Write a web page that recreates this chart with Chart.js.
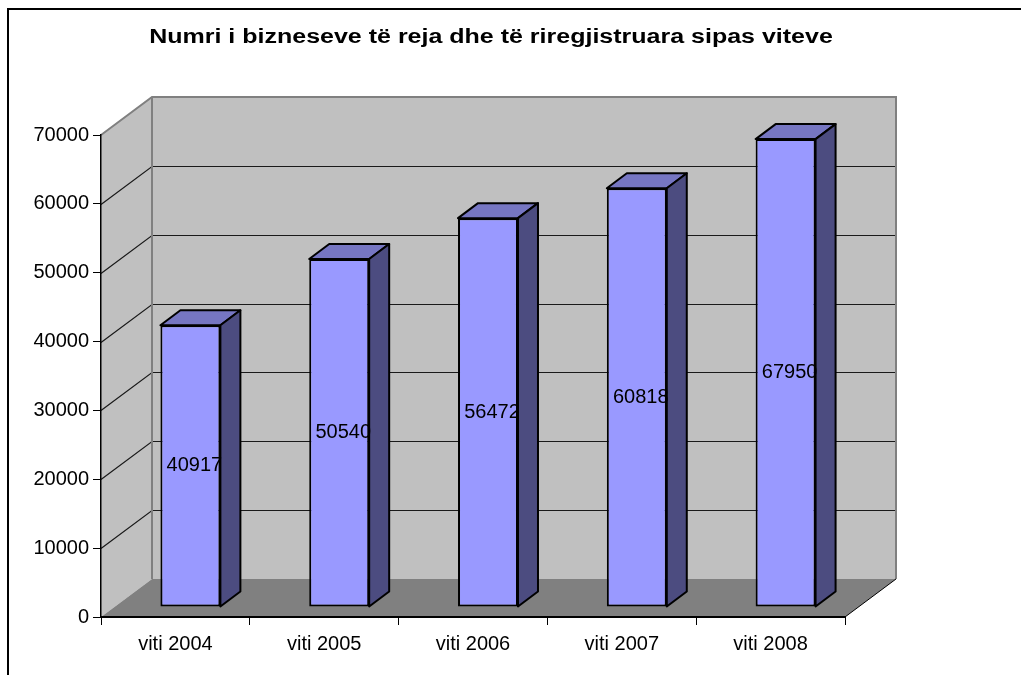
<!DOCTYPE html>
<html>
<head>
<meta charset="utf-8">
<script src="https://cdn.jsdelivr.net/npm/chart.js@4.4.1/dist/chart.umd.min.js"></script>
<style>
  html, body { margin: 0; padding: 0; background: #fff; }
  #wrap { width: 1021px; height: 675px; }
</style>
</head>
<body>
<div id="wrap"><canvas id="chart" width="1021" height="675"></canvas></div>
<script>
const chartTitle = "Numri i bizneseve të reja dhe të riregjistruara sipas viteve";
const categories = ["viti 2004", "viti 2005", "viti 2006", "viti 2007", "viti 2008"];
const businesses = [40917, 50540, 56472, 60818, 67950];
const yMin = 0;
const yMax = 70000;
const yStep = 10000;

const FONT = "'Liberation Sans', Arial, sans-serif";
// depth of the 3D box (back wall offset) and of the bars inside it
const WALL_DX = 51, WALL_DY = -38;
const BAR_DX = 15, BAR_DY = -10;
const DEPTH_X = 20, DEPTH_Y = -15;

function poly(ctx, pts) {
  ctx.beginPath();
  ctx.moveTo(pts[0][0], pts[0][1]);
  for (let i = 1; i < pts.length; i++) ctx.lineTo(pts[i][0], pts[i][1]);
  ctx.closePath();
}

const box3d = {
  id: "box3d",
  beforeDraw(chart) {
    const { ctx, chartArea: a, scales } = chart;
    const ys = scales.y;
    ctx.save();

    // outer frame
    ctx.strokeStyle = "#000";
    ctx.lineWidth = 2;
    ctx.beginPath();
    ctx.moveTo(8, 675);
    ctx.lineTo(8, 9);
    ctx.lineTo(1021, 9);
    ctx.stroke();

    const bl = a.left + WALL_DX, br = a.right + WALL_DX;
    const bt = a.top + WALL_DY, bb = a.bottom + WALL_DY;

    // side wall + back wall
    ctx.fillStyle = "#c0c0c0";
    poly(ctx, [[a.left, a.top], [bl, bt], [bl, bb], [a.left, a.bottom]]);
    ctx.fill();
    ctx.fillRect(bl, bt, br - bl, bb - bt);

    // floor
    ctx.fillStyle = "#808080";
    poly(ctx, [[a.left, a.bottom], [bl, bb], [br, bb], [a.right, a.bottom]]);
    ctx.fill();

    // grid lines on the walls
    ctx.strokeStyle = "#1a1a1a";
    ctx.lineWidth = 1.2;
    ys.ticks.forEach((t) => {
      if (t.value === yMin || t.value === yMax) return;
      const py = Math.round(ys.getPixelForValue(t.value)) + 0.5;
      ctx.beginPath();
      ctx.moveTo(a.left, py);
      ctx.lineTo(bl, py + WALL_DY);
      ctx.lineTo(br, py + WALL_DY);
      ctx.stroke();
    });

    // wall edges
    ctx.strokeStyle = "#808080";
    ctx.lineWidth = 2;
    ctx.beginPath();
    ctx.moveTo(a.left, a.top);
    ctx.lineTo(bl, bt);
    ctx.lineTo(br, bt);
    ctx.lineTo(br, bb);
    ctx.moveTo(bl, bt);
    ctx.lineTo(bl, bb);
    ctx.stroke();

    // floor right edge
    ctx.strokeStyle = "#000";
    ctx.lineWidth = 1;
    ctx.beginPath();
    ctx.moveTo(a.right, a.bottom);
    ctx.lineTo(br, bb);
    ctx.stroke();

    ctx.restore();
  },
  afterDraw(chart) {
    // title, a little wider than the font's natural width like the original
    const ctx = chart.ctx;
    ctx.save();
    ctx.fillStyle = "#000";
    ctx.font = "bold 20px " + FONT;
    ctx.textAlign = "center";
    ctx.textBaseline = "middle";
    ctx.translate(491, 37);
    ctx.scale(1.25, 1);
    ctx.fillText(chartTitle, 0, 0);
    ctx.restore();
  }
};

const bars3d = {
  id: "bars3d",
  beforeDatasetsDraw(chart) {
    chart.ctx.save();
    chart.ctx.translate(BAR_DX, BAR_DY);
  },
  afterDatasetsDraw(chart) {
    const ctx = chart.ctx;
    ctx.lineWidth = 2;
    ctx.lineJoin = "round";
    ctx.strokeStyle = "#000";
    chart.getDatasetMeta(0).data.forEach((bar, i) => {
      const l = bar.x - bar.width / 2, r = bar.x + bar.width / 2;
      const t = bar.y, b = bar.base;
      // top face
      ctx.fillStyle = "#7676c2";
      poly(ctx, [[l, t], [l + DEPTH_X, t + DEPTH_Y], [r + DEPTH_X, t + DEPTH_Y], [r, t]]);
      ctx.fill();
      ctx.stroke();
      // side face
      ctx.fillStyle = "#4c4c80";
      poly(ctx, [[r, t], [r + DEPTH_X, t + DEPTH_Y], [r + DEPTH_X, b + DEPTH_Y], [r, b]]);
      ctx.fill();
      ctx.stroke();
      // value label
      ctx.fillStyle = "#000";
      ctx.font = "20px " + FONT;
      ctx.textAlign = "center";
      ctx.textBaseline = "middle";
      ctx.fillText(String(businesses[i]), bar.x + 4, (t + b) / 2);
    });
    ctx.restore();
  }
};

new Chart(document.getElementById("chart"), {
  type: "bar",
  data: {
    labels: categories,
    datasets: [{
      data: businesses,
      backgroundColor: "#9999ff",
      borderColor: "#000",
      borderWidth: 2,
      borderSkipped: false,
      barPercentage: 0.403,
      categoryPercentage: 1,
      clip: false
    }]
  },
  options: {
    responsive: false,
    animation: false,
    devicePixelRatio: 1,
    layout: { padding: { left: 0, right: 176, top: 135, bottom: 0 } },
    plugins: {
      legend: { display: false },
      tooltip: { enabled: false },
      title: { display: false }
    },
    scales: {
      x: {
        grid: { drawOnChartArea: false, tickLength: 8, color: "#000", offset: true },
        border: { color: "#000", width: 2 },
        ticks: { color: "#000", font: { family: FONT, size: 20 }, padding: 7, maxRotation: 0 },
        afterFit(s) { s.height = 58; }
      },
      y: {
        min: yMin,
        max: yMax,
        ticks: {
          stepSize: yStep,
          color: "#000",
          font: { family: FONT, size: 20 },
          padding: 4,
          callback: (v) => String(v)
        },
        grid: { drawOnChartArea: false, tickLength: 8, color: "#000" },
        border: { color: "#000", width: 1.5 },
        afterFit(s) { s.width = 101; }
      }
    }
  },
  plugins: [box3d, bars3d]
});
</script>
</body>
</html>
